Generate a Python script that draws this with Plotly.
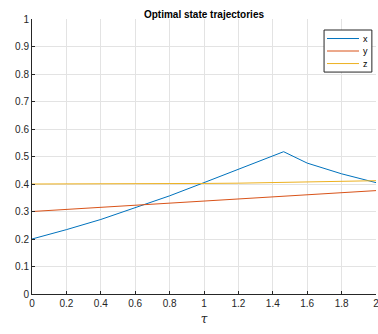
import plotly.graph_objects as go

tau = [0.0, 0.2, 0.4, 0.6, 0.8, 1.0, 1.2, 1.4, 1.463, 1.6, 1.8, 2.0]
x_vals = [0.200, 0.234, 0.271, 0.313, 0.357, 0.405, 0.453, 0.502, 0.5175, 0.476, 0.437, 0.405]
y_vals = [0.300, 0.3076, 0.3152, 0.3228, 0.3304, 0.338, 0.3456, 0.3532, 0.3556, 0.3608, 0.3684, 0.376]
z_vals = [0.400, 0.400, 0.400, 0.4005, 0.401, 0.402, 0.403, 0.405, 0.4055, 0.407, 0.4095, 0.412]

series_names = ["x", "y", "z"]
series_colors = ["#0072BD", "#D95319", "#EDB120"]

xticks = [0, 0.2, 0.4, 0.6, 0.8, 1, 1.2, 1.4, 1.6, 1.8, 2]
yticks = [0, 0.1, 0.2, 0.3, 0.4, 0.5, 0.6, 0.7, 0.8, 0.9, 1]

fig = go.Figure()
for name, vals, col in zip(series_names, [x_vals, y_vals, z_vals], series_colors):
    fig.add_trace(go.Scatter(x=tau, y=vals, mode="lines", name=name,
                             line=dict(color=col, width=1), showlegend=False))

axis_common = dict(showgrid=True, gridcolor="#e3e3e3", gridwidth=1,
                   showline=True, linecolor="#262626", linewidth=1,
                   ticks="inside", ticklen=3, tickcolor="#262626",
                   tickfont=dict(family="Liberation Sans, Arial", size=10, color="#262626"),
                   zeroline=False, mirror=False, automargin=False,
                   ticklabeloverflow="allow")

# custom compact legend (MATLAB style)
shapes = [dict(type="rect", xref="paper", yref="paper", x0=0.849, x1=0.988, y0=0.807, y1=0.96,
               line=dict(color="#262626", width=1), fillcolor="white", layer="above")]
annotations = []
leg_y = [0.929, 0.8836, 0.838]
for name, col, ly in zip(series_names, series_colors, leg_y):
    shapes.append(dict(type="line", xref="paper", yref="paper", x0=0.8576, x1=0.9506, y0=ly, y1=ly,
                       line=dict(color=col, width=1), layer="above"))
    annotations.append(dict(text=name, xref="paper", yref="paper", x=0.956, y=ly,
                            xanchor="left", yanchor="middle", showarrow=False,
                            font=dict(family="Liberation Sans, Arial", size=9, color="black")))

fig.update_layout(
    width=378, height=334,
    margin=dict(l=32, r=2, t=19, b=40),
    paper_bgcolor="white", plot_bgcolor="white",
    title=dict(text="<b>Optimal state trajectories</b>", xref="paper", x=0.5, xanchor="center",
               y=0.958, yanchor="middle",
               font=dict(family="Liberation Sans, Arial", size=10, color="black")),
    xaxis=dict(range=[0, 2], tickvals=xticks, ticktext=[str(t) for t in xticks],
               title=dict(text="<i>τ</i>", font=dict(family="DejaVu Serif", size=12, color="#262626"), standoff=6),
               **axis_common),
    yaxis=dict(range=[0, 1], tickvals=yticks, ticktext=[str(t) for t in yticks],
               **axis_common),
    shapes=shapes, annotations=annotations,
    showlegend=False,
)

fig.write_html("out.html", config={"displayModeBar": False},
               post_script="document.body.style.margin='0';document.body.style.overflow='hidden';")
